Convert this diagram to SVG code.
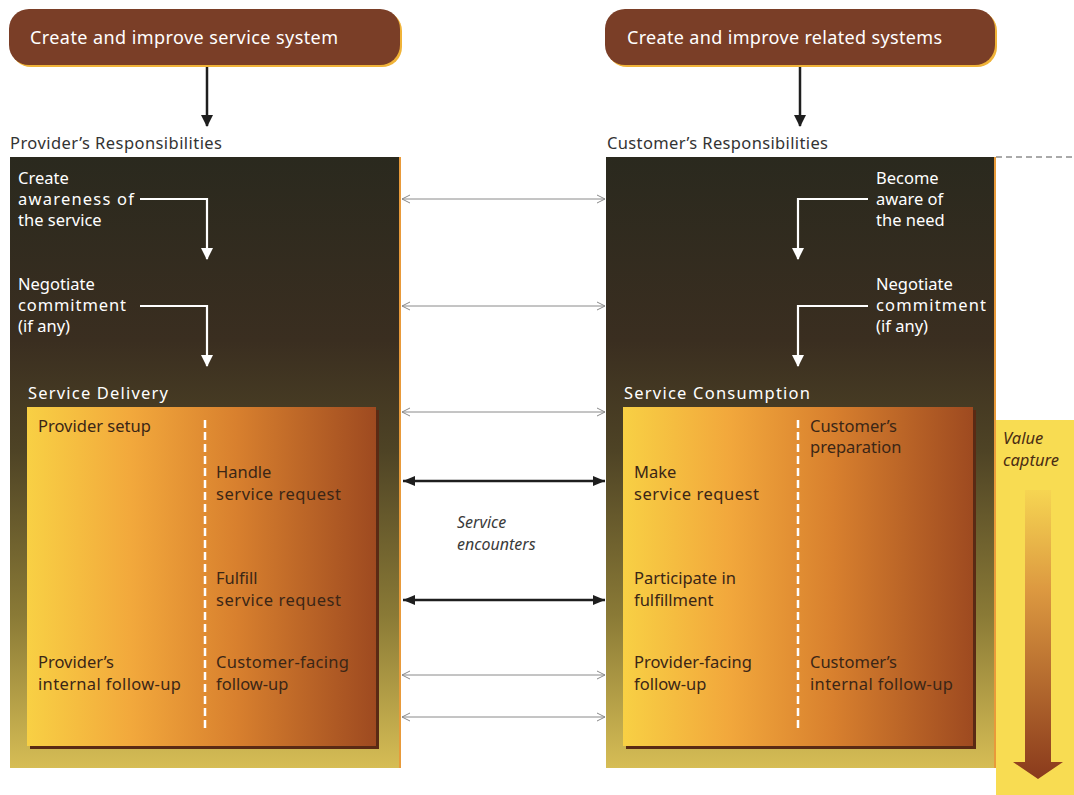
<svg xmlns="http://www.w3.org/2000/svg" width="1074" height="795" viewBox="0 0 1074 795">
  <style>
    .hdr { font-family: "Noto Sans", "Open Sans", sans-serif; font-size: 18px; fill: #ffffff; }
    .resp { font-family: "Noto Sans", "Open Sans", sans-serif; font-size: 16.5px; fill: #333333; }
    .wt { font-family: "Noto Sans", "Open Sans", sans-serif; font-size: 16.5px; fill: #ffffff; }
    .dk { font-family: "Noto Sans", "Open Sans", sans-serif; font-size: 16.5px; fill: #3b2616; }
    .it { font-family: "Noto Sans", "Open Sans", sans-serif; font-size: 16px; font-style: italic; fill: #3a3a3a; }
    .itv { font-family: "Noto Sans", "Open Sans", sans-serif; font-size: 16.5px; font-style: italic; fill: #4a2c14; }
    .thin { stroke: #8a8a8a; stroke-width: 1; fill: none; marker-start: url(#openL); marker-end: url(#openR); }
    .thick { stroke: #1e1e1e; stroke-width: 2.5; fill: none; marker-start: url(#solidL); marker-end: url(#solidR); }
    .flow { stroke: #ffffff; stroke-width: 2.2; fill: none; marker-end: url(#whiteHead); }
    .down { stroke: #1e1e1e; stroke-width: 2.5; fill: none; marker-end: url(#blackHead); }
    .split { stroke: #ffffff; stroke-width: 2.5; stroke-dasharray: 8 4; }
  </style>
  <defs>
    <linearGradient id="panelGrad" x1="0" y1="0" x2="0" y2="1">
      <stop offset="0" stop-color="#2a291e"/>
      <stop offset="0.3" stop-color="#3a2e20"/>
      <stop offset="0.48" stop-color="#4e4325"/>
      <stop offset="0.75" stop-color="#8a7a36"/>
      <stop offset="1" stop-color="#d6bd55"/>
    </linearGradient>
    <linearGradient id="innerGrad" x1="0" y1="0" x2="1" y2="0">
      <stop offset="0" stop-color="#f8d044"/>
      <stop offset="0.3" stop-color="#f2a83c"/>
      <stop offset="0.6" stop-color="#d8802e"/>
      <stop offset="1" stop-color="#9e4a20"/>
    </linearGradient>
    <linearGradient id="valueArrow" x1="0" y1="0" x2="0" y2="1">
      <stop offset="0" stop-color="#f6d552"/>
      <stop offset="0.35" stop-color="#dc9840"/>
      <stop offset="1" stop-color="#8a3a1c"/>
    </linearGradient>
    <marker id="openL" viewBox="0 0 10 10" refX="1" refY="5" markerWidth="10" markerHeight="10" markerUnits="userSpaceOnUse" orient="auto">
      <path d="M9 1 L1 5 L9 9" fill="none" stroke="#8a8a8a" stroke-width="1"/>
    </marker>
    <marker id="openR" viewBox="0 0 10 10" refX="9" refY="5" markerWidth="10" markerHeight="10" markerUnits="userSpaceOnUse" orient="auto">
      <path d="M1 1 L9 5 L1 9" fill="none" stroke="#8a8a8a" stroke-width="1"/>
    </marker>
    <marker id="solidL" viewBox="0 0 12 10" refX="0" refY="5" markerWidth="12" markerHeight="10" markerUnits="userSpaceOnUse" orient="auto">
      <path d="M0 5 L12 0 L12 10 Z" fill="#1e1e1e"/>
    </marker>
    <marker id="solidR" viewBox="0 0 12 10" refX="12" refY="5" markerWidth="12" markerHeight="10" markerUnits="userSpaceOnUse" orient="auto">
      <path d="M0 0 L12 5 L0 10 Z" fill="#1e1e1e"/>
    </marker>
    <marker id="whiteHead" viewBox="0 0 12 12" refX="6" refY="11" markerWidth="12" markerHeight="12" markerUnits="userSpaceOnUse" orient="0">
      <path d="M0 0 L12 0 L6 12 Z" fill="#ffffff"/>
    </marker>
    <marker id="blackHead" viewBox="0 0 12 12" refX="6" refY="11" markerWidth="12" markerHeight="12" markerUnits="userSpaceOnUse" orient="0">
      <path d="M0 0 L12 0 L6 12 Z" fill="#1e1e1e"/>
    </marker>
  </defs>

  <rect width="1074" height="795" fill="#ffffff"/>

  <!-- top system boxes -->
  <g id="node-service-system">
    <rect x="11" y="11" width="391" height="56" rx="20" fill="#f0b338"/>
    <rect x="9" y="9" width="391" height="56" rx="20" fill="#7a3e27"/>
    <text class="hdr" x="30" y="44" textLength="308">Create and improve service system</text>
  </g>
  <g id="node-related-systems">
    <rect x="607" y="11" width="390" height="56" rx="20" fill="#f0b338"/>
    <rect x="605" y="9" width="390" height="56" rx="20" fill="#7a3e27"/>
    <text class="hdr" x="627" y="44" textLength="315">Create and improve related systems</text>
  </g>

  <!-- provider panel -->
  <g id="node-provider">
    <text class="resp" x="10" y="149" textLength="212">Provider’s Responsibilities</text>
    <rect x="10" y="157" width="391" height="611" fill="url(#panelGrad)"/>
    <rect x="399" y="157" width="2" height="611" fill="#e89a3a"/>
    <text class="wt" x="18" y="184">Create</text>
    <text class="wt" x="18" y="205" textLength="116">awareness of</text>
    <text class="wt" x="18" y="226">the service</text>
    <text class="wt" x="18" y="290">Negotiate</text>
    <text class="wt" x="18" y="311" textLength="108">commitment</text>
    <text class="wt" x="18" y="332">(if any)</text>
    <text class="wt" x="28" y="399" textLength="140">Service Delivery</text>
  </g>
  <g id="node-service-delivery">
    <rect x="30" y="410" width="349" height="339" fill="#5a2a14"/>
    <rect x="27" y="407" width="349" height="339" fill="url(#innerGrad)"/>
    <line class="split" x1="205" y1="420" x2="205" y2="728"/>
    <text class="dk" x="38" y="432">Provider setup</text>
    <text class="dk" x="216" y="478">Handle</text>
    <text class="dk" x="216" y="500" textLength="125">service request</text>
    <text class="dk" x="216" y="584">Fulfill</text>
    <text class="dk" x="216" y="606" textLength="125">service request</text>
    <text class="dk" x="38" y="668">Provider’s</text>
    <text class="dk" x="38" y="690" textLength="143">internal follow-up</text>
    <text class="dk" x="216" y="668" textLength="133">Customer-facing</text>
    <text class="dk" x="216" y="690">follow-up</text>
  </g>

  <!-- customer panel -->
  <g id="node-customer">
    <text class="resp" x="607" y="149" textLength="221">Customer’s Responsibilities</text>
    <rect x="606" y="157" width="390" height="611" fill="url(#panelGrad)"/>
    <rect x="994" y="157" width="2" height="611" fill="#e89a3a"/>
    <text class="wt" x="876" y="184">Become</text>
    <text class="wt" x="876" y="205">aware of</text>
    <text class="wt" x="876" y="226">the need</text>
    <text class="wt" x="876" y="290">Negotiate</text>
    <text class="wt" x="876" y="311" textLength="110">commitment</text>
    <text class="wt" x="876" y="332">(if any)</text>
    <text class="wt" x="624" y="399" textLength="186">Service Consumption</text>
  </g>
  <g id="node-service-consumption">
    <rect x="626" y="410" width="350" height="339" fill="#5a2a14"/>
    <rect x="623" y="407" width="350" height="339" fill="url(#innerGrad)"/>
    <line class="split" x1="798" y1="420" x2="798" y2="728"/>
    <text class="dk" x="810" y="432">Customer’s</text>
    <text class="dk" x="810" y="453">preparation</text>
    <text class="dk" x="634" y="478">Make</text>
    <text class="dk" x="634" y="500" textLength="125">service request</text>
    <text class="dk" x="634" y="584">Participate in</text>
    <text class="dk" x="634" y="606">fulfillment</text>
    <text class="dk" x="634" y="668">Provider-facing</text>
    <text class="dk" x="634" y="690">follow-up</text>
    <text class="dk" x="810" y="668">Customer’s</text>
    <text class="dk" x="810" y="690" textLength="143">internal follow-up</text>
  </g>

  <!-- value capture band -->
  <g id="node-value-capture">
    <rect x="996" y="420" width="78" height="375" fill="#f8dc52"/>
    <text class="itv" x="1003" y="444">Value</text>
    <text class="itv" x="1003" y="466">capture</text>
    <path d="M1025 490 L1051 490 L1051 762 L1063 762 L1038 779 L1013 762 L1025 762 Z" fill="url(#valueArrow)"/>
  </g>

  <text class="it" x="457" y="528">Service</text>
  <text class="it" x="457" y="550">encounters</text>

  <!-- connectors -->
  <g id="connectors">
    <line class="down" x1="207" y1="67" x2="207" y2="126"/>
    <line class="down" x1="800" y1="67" x2="800" y2="126"/>
    <polyline class="flow" points="140,199 207,199 207,259"/>
    <polyline class="flow" points="140,306 207,306 207,366"/>
    <polyline class="flow" points="868,199 798,199 798,259"/>
    <polyline class="flow" points="868,306 798,306 798,366"/>
    <line class="thin" x1="402" y1="199" x2="605" y2="199"/>
    <line class="thin" x1="402" y1="306" x2="605" y2="306"/>
    <line class="thin" x1="402" y1="412" x2="605" y2="412"/>
    <line class="thick" x1="403" y1="481" x2="605" y2="481"/>
    <line class="thick" x1="403" y1="600" x2="605" y2="600"/>
    <line class="thin" x1="402" y1="675" x2="605" y2="675"/>
    <line class="thin" x1="402" y1="717" x2="605" y2="717"/>
    <line x1="996" y1="157" x2="1074" y2="157" stroke="#555555" stroke-width="1" stroke-dasharray="6 4"/>
  </g>
</svg>
